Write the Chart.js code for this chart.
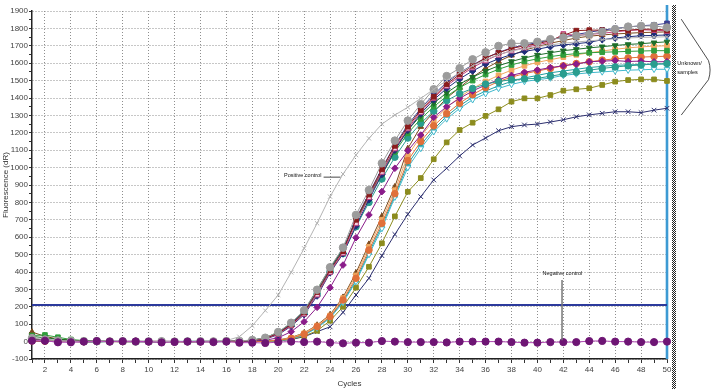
<!DOCTYPE html>
<html><head><meta charset="utf-8">
<script src="https://cdn.jsdelivr.net/npm/chart.js@4.4.0/dist/chart.umd.min.js"></script>
<style>
html,body{margin:0;padding:0;background:#fff;}
#wrap{position:relative;width:713px;height:389px;overflow:hidden;}
canvas{position:absolute;left:0;top:0;}
#hatch{position:absolute;left:672px;top:5px;width:4px;height:384px;background:repeating-conic-gradient(#222 0 25%,#fff 0 50%) 0 0/2px 2px;}
</style></head>
<body><div id="wrap"><canvas id="c" width="713" height="389"></canvas><div id="hatch"></div></div>
<script>
const CYCLES = Array.from({length:50},(_, i)=>i+1);
const THRESHOLD = 210;
const END_CYCLE = 50;

const NEG = [5,5,-4,-4,0,3,0,2,1,0, -5,-2,0,-1,-3,0,-6,-6,-8,-3, 0,-3,0,-6,-10,-6,-6,3,0,-3, -3,-3,-5,0,0,0,0,-3,-6,-6, -3,-3,-3,3,4,0,0,-3,-3,0];
const POS = [8,5,3,2,0,1,-1,0,1,0, 0,1,0,2,3,6,28,91,178,268, 398,536,680,833,963,1072,1168,1250,1302,1347, 1398,1450,1500,1545,1585,1620,1650,1670,1685,1695, 1705,1715,1722,1728,1735,1740,1745,1748,1750,1752];
const S_GRAY = [20,12,6,4,2,3,1,2,0,1, 2,0,1,2,1,3,4,9,22,55, 108,180,298,427,540,728,871,1025,1155,1270, 1364,1450,1526,1571,1622,1662,1699,1714,1714,1723, 1738,1748,1758,1766,1780,1795,1810,1814,1814,1805];
const S_DKRED = [10,8,5,3,2,0,1,-1,0,2, 1,0,-1,1,0,2,3,7,18,48, 98,168,285,410,520,700,845,990,1125,1235, 1330,1407,1480,1535,1585,1630,1660,1685,1700,1712, 1730,1760,1787,1790,1790,1786,1790,1795,1796,1790];
const S_PINK = [5,6,2,1,0,2,0,1,-1,0, 2,1,0,1,0,1,2,6,16,44, 92,160,270,400,510,680,830,975,1110,1225, 1320,1400,1470,1525,1575,1615,1648,1672,1690,1705, 1722,1768,1760,1765,1772,1780,1788,1792,1790,1785];
const S_NAVYD = [8,4,3,1,0,-1,1,0,2,0, -1,1,0,0,1,1,2,5,14,40, 88,155,262,395,505,665,815,960,1100,1215, 1310,1390,1455,1510,1555,1595,1625,1650,1668,1680, 1695,1705,1712,1720,1735,1745,1752,1758,1760,1762];
const S_SLATE = [15,10,6,3,1,0,2,1,0,-1, 1,2,0,1,2,1,3,8,20,50, 102,172,290,415,525,705,850,995,1130,1245, 1340,1420,1490,1545,1590,1630,1662,1688,1705,1718, 1735,1750,1765,1778,1790,1800,1808,1815,1820,1829];
const S_DKGREEN = [30,22,14,8,4,2,1,0,1,0, -1,1,0,2,1,2,3,8,20,52, 105,175,295,420,530,700,840,975,1110,1215, 1300,1370,1430,1480,1520,1555,1585,1610,1630,1647, 1660,1672,1680,1688,1695,1702,1708,1712,1718,1723];
const S_GREEN = [35,38,25,12,6,3,2,1,0,1, 0,-1,1,0,1,2,3,9,22,54, 106,176,300,423,535,690,830,960,1090,1197, 1280,1350,1410,1460,1500,1535,1565,1590,1610,1625, 1638,1648,1655,1660,1663,1665,1668,1670,1672,1672];
const S_TEAL = [12,8,4,2,1,0,0,1,-1,0, 1,0,2,1,0,1,2,6,17,46, 96,163,275,402,505,660,800,935,1060,1170, 1255,1325,1385,1425,1455,1480,1495,1505,1510,1513, 1525,1538,1548,1560,1570,1578,1585,1590,1595,1598];
const S_PURPLE = [6,3,1,0,-2,1,0,2,0,-1, 0,1,-1,0,2,0,1,3,8,22, 57,114,197,310,440,597,728,862,996,1097, 1187,1289,1350,1398,1440,1475,1505,1530,1548,1561, 1575,1585,1595,1608,1612,1615,1610,1612,1608,1609];
const S_ORANGE = [4,2,0,1,-1,0,2,0,1,-1, 0,1,0,-1,1,0,0,0,2,6, 18,42,86,143,239,364,526,680,850,1040, 1150,1240,1310,1370,1420,1460,1495,1520,1540,1555, 1570,1585,1598,1608,1618,1625,1630,1635,1638,1640];
const S_PEACH = [10,6,3,1,0,1,-1,0,2,0, 1,-1,0,1,0,1,0,1,3,8, 22,48,92,150,250,380,545,700,870,1070, 1180,1270,1345,1405,1455,1495,1530,1560,1585,1605, 1620,1635,1648,1660,1670,1680,1688,1694,1698,1700];
const S_BROWN = [55,30,15,8,4,2,1,0,1,0, -1,0,1,0,0,1,0,1,3,9, 24,50,95,155,255,395,560,720,890,1110, 1235,1320,1400,1460,1520,1570,1610,1645,1675,1695, 1715,1730,1745,1755,1762,1768,1772,1776,1778,1780];
const S_CYAN = [7,4,2,0,1,-1,0,1,0,2, 0,1,-1,0,1,0,1,0,2,5, 15,38,78,135,225,345,500,650,830,1000, 1110,1206,1280,1340,1390,1425,1455,1478,1495,1505, 1515,1530,1538,1545,1550,1555,1560,1562,1565,1565];
const S_TEAL2 = [9,5,2,1,0,0,1,-1,0,1, 0,0,1,1,-1,0,1,1,2,6, 17,40,82,140,232,352,512,665,840,1020, 1130,1220,1295,1355,1405,1440,1470,1495,1515,1530, 1545,1555,1565,1575,1582,1588,1590,1593,1595,1595];
const S_OLIVE = [3,2,0,1,0,-1,1,0,0,1, 0,1,0,0,1,0,1,0,1,4, 14,32,62,120,200,310,430,565,720,861, 940,1048,1145,1216,1258,1297,1335,1379,1398,1398, 1417,1442,1450,1456,1475,1494,1503,1507,1507,1498];
const S_NAVYX = [2,1,0,1,-1,0,1,0,2,0, 1,0,0,-1,0,1,0,0,2,5, 12,28,57,85,168,268,364,494,616,732, 833,929,996,1067,1130,1170,1212,1235,1245,1250, 1262,1275,1292,1303,1312,1321,1321,1316,1330,1341];

const LABEL_POS = {text:'Positive control', x:20.45, y:952, lx0:23.5, lx1:24.8, ly:945};
const LABEL_NEG = {text:'Negative control', x:40.4, y:394, lx:41.9, ly0:354, ly1:8};
const LABEL_UNK = {lines:['Unknown/','samples'], x:50.8, y:1600, dy:52};
const BRACE = {x0:51.1, xt:53.2, xtip:53.45, yTop:1853, yA:1615, yMid:1561, yB:1505, yBot:1302};

function ds(label, data, color, style, opts){
  return Object.assign({label, data, borderColor:color, backgroundColor:color, pointBackgroundColor:color,
    pointBorderColor:color, pointStyle:style, pointRadius:3.3, pointBorderWidth:1, borderWidth:1,
    tension:0, clip:false}, opts||{});
}
const datasets = [
  ds('Negative control', NEG, '#b24ab4', 'circle', {pointBackgroundColor:'#6e1574', pointBorderColor:'#6e1574', pointRadius:3.6}),
  ds('Positive control', POS, '#b3b3b3', 'crossRot', {pointRadius:3, borderWidth:1}),
  ds('S1', S_GRAY, '#9b9b9b', 'circle', {pointRadius:3.8}),
  ds('S2', S_DKRED, '#8b1c1c', 'rect'),
  ds('S3', S_PINK, '#c2407e', 'rect', {pointBackgroundColor:'#f4d0e0'}),
  ds('S4', S_NAVYD, '#1f2d7a', 'rectRot'),
  ds('S5', S_SLATE, '#3d3f8f', 'rect'),
  ds('S6', S_DKGREEN, '#1e6f2a', 'triangle', {pointRotation:180}),
  ds('S7', S_GREEN, '#2f9e3c', 'rect'),
  ds('S8', S_TEAL, '#2a9d8f', 'circle'),
  ds('S9', S_PURPLE, '#8a1c8a', 'rectRot'),
  ds('S10', S_ORANGE, '#e0703a', 'circle'),
  ds('S11', S_PEACH, '#f0a860', 'rect'),
  ds('S12', S_BROWN, '#7b4a1e', 'triangle'),
  ds('S13', S_CYAN, '#40b8cc', 'triangle', {pointRotation:180, pointBackgroundColor:'#ffffff'}),
  ds('S14', S_TEAL2, '#1f9e9e', 'triangle'),
  ds('S15', S_OLIVE, '#8c8c1e', 'rect'),
  ds('S16', S_NAVYX, '#2b2e6e', 'crossRot', {pointRadius:3.3}),
  {label:'Threshold', data:CYCLES.map(()=>THRESHOLD), borderColor:'#2c3a9c', borderWidth:2, pointRadius:0, clip:false}
];

const FONT = '"Liberation Sans", Arial, sans-serif';
const decor = {
  id:'decor',
  beforeDatasetsDraw(chart){
    const {ctx, chartArea:a, scales:{x}} = chart;
    const xe = x.getPixelForValue(END_CYCLE);
    ctx.save();
    ctx.strokeStyle='#3d9ad3'; ctx.lineWidth=2.6;
    ctx.beginPath(); ctx.moveTo(xe, a.top-6); ctx.lineTo(xe, a.bottom); ctx.stroke();
    ctx.restore();
  },
  afterDatasetsDraw(chart){
    const {ctx, scales:{x,y}} = chart;
    ctx.save();
    ctx.fillStyle='#111'; ctx.font='5.5px '+FONT; ctx.textBaseline='middle'; ctx.textAlign='left';
    ctx.fillText(LABEL_POS.text, x.getPixelForValue(LABEL_POS.x), y.getPixelForValue(LABEL_POS.y));
    ctx.strokeStyle='#666'; ctx.lineWidth=1.2;
    ctx.beginPath(); ctx.moveTo(x.getPixelForValue(LABEL_POS.lx0), y.getPixelForValue(LABEL_POS.ly));
    ctx.lineTo(x.getPixelForValue(LABEL_POS.lx1), y.getPixelForValue(LABEL_POS.ly)); ctx.stroke();
    ctx.fillText(LABEL_NEG.text, x.getPixelForValue(LABEL_NEG.x), y.getPixelForValue(LABEL_NEG.y));
    ctx.strokeStyle='#777'; ctx.lineWidth=1.5;
    ctx.beginPath(); ctx.moveTo(x.getPixelForValue(LABEL_NEG.lx), y.getPixelForValue(LABEL_NEG.ly0));
    ctx.lineTo(x.getPixelForValue(LABEL_NEG.lx), y.getPixelForValue(LABEL_NEG.ly1)); ctx.stroke();
    LABEL_UNK.lines.forEach((t,i)=>ctx.fillText(t, x.getPixelForValue(LABEL_UNK.x), y.getPixelForValue(LABEL_UNK.y - i*LABEL_UNK.dy)));
    ctx.strokeStyle='#222'; ctx.lineWidth=0.8;
    ctx.beginPath();
    ctx.moveTo(x.getPixelForValue(BRACE.x0), y.getPixelForValue(BRACE.yTop));
    ctx.lineTo(x.getPixelForValue(BRACE.xt), y.getPixelForValue(BRACE.yA));
    ctx.quadraticCurveTo(x.getPixelForValue(BRACE.xtip), y.getPixelForValue(BRACE.yMid), x.getPixelForValue(BRACE.xt), y.getPixelForValue(BRACE.yB));
    ctx.lineTo(x.getPixelForValue(BRACE.x0), y.getPixelForValue(BRACE.yBot));
    ctx.stroke();
    ctx.restore();
  }
};

new Chart(document.getElementById('c'), {
  type:'line',
  data:{labels:CYCLES, datasets},
  options:{
    responsive:false, animation:false, devicePixelRatio:1,
    layout:{padding:{top:11, right:46, left:0, bottom:0}},
    plugins:{legend:{display:false}, tooltip:{enabled:false}},
    scales:{
      x:{type:'linear', min:1, max:50,
        afterFit(s){ s.height = 30; },
        ticks:{stepSize:1, autoSkip:false, maxRotation:0, padding:2, color:'#444', font:{size:8, family:FONT},
          callback:v => (v%2===0 ? String(v) : '')},
        grid:{color:c => (c.tick && c.tick.value%2===0 ? '#8e8e8e' : 'rgba(0,0,0,0)'), tickColor:'#333', tickLength:4, lineWidth:1},
        border:{color:'#222', width:1.5, dash:[1,2]},
        title:{display:true, text:'Cycles', color:'#333', font:{size:8, family:FONT}, padding:{top:0,bottom:0}}
      },
      y:{min:-100, max:1900,
        afterFit(s){ s.width = 32; },
        ticks:{stepSize:50, autoSkip:false, padding:1, color:'#444', font:{size:8, family:FONT},
          callback:v => (v%100===0 ? String(v) : '')},
        grid:{color:c => (c.tick && c.tick.value%100===0 ? '#8e8e8e' : 'rgba(0,0,0,0)'), tickColor:'#333', tickLength:3, lineWidth:1},
        border:{color:'#222', width:1.5, dash:[1,2]},
        title:{display:true, text:'Fluorescence (dR)', color:'#333', font:{size:8, family:FONT}, padding:{top:1,bottom:0}}
      }
    }
  },
  plugins:[decor]
});
</script>
</body></html>
